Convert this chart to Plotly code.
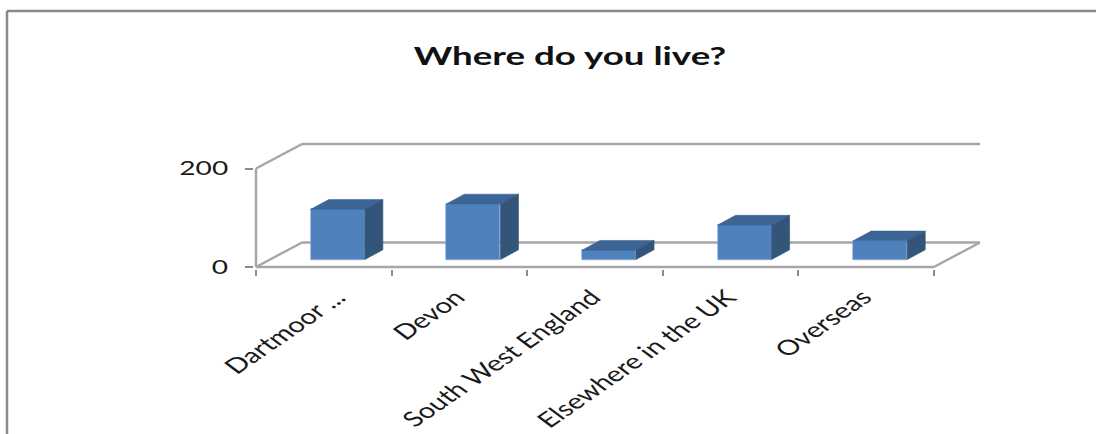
import plotly.graph_objects as go

categories = ["Dartmoor ...", "Devon", "South West England", "Elsewhere in the UK", "Overseas"]
values = [102, 113, 19, 70, 38]
y_tick_vals = [0, 200]
y_tick_text = ["200" if v else "0" for v in y_tick_vals]

STEP = 135.4
UNIT = 0.49
WALL_DX, WALL_DY = 46 / STEP, 24.4 / UNIT
BASE_DX, BASE_DY = 14 / STEP, 7.4 / UNIT
BAR_DX, BAR_DY = 18 / STEP, 9.7 / UNIT
BAR_W = 54 / STEP
PAD = 2  # px of room around the drawn walls, so their strokes are not clipped
LABEL_NUDGE = [0.12, 0, 0, 0, 0]  # the truncated first label sits further right in the reference
n = len(categories)
centers = [i + 0.5 + BASE_DX for i in range(n)]

FRONT, TOP, SIDE = "#4f81bd", "#3c6494", "#335579"
GRID = "#a6a6a6"
TEXT = "#1a1a1a"
FONT = "Lato"

fig = go.Figure()
fig.add_trace(go.Bar(x=centers, y=values, base=BASE_DY, width=BAR_W,
                     marker=dict(color=FRONT, line=dict(color="#7fa6d6", width=0.6)),
                     showlegend=False, hoverinfo="skip"))
for c, v in zip(centers, values):
    l, r = c - BAR_W / 2, c + BAR_W / 2
    t = BASE_DY + v
    fig.add_trace(go.Scatter(x=[l, r, r + BAR_DX, l + BAR_DX, l], y=[t, t, t + BAR_DY, t + BAR_DY, t],
                             mode="lines", fill="toself", fillcolor=TOP, line=dict(color=TOP, width=0.6),
                             showlegend=False, hoverinfo="skip"))
    fig.add_trace(go.Scatter(x=[r, r + BAR_DX, r + BAR_DX, r, r],
                             y=[BASE_DY, BASE_DY + BAR_DY, t + BAR_DY, t, BASE_DY],
                             mode="lines", fill="toself", fillcolor=SIDE, line=dict(color=SIDE, width=0.6),
                             showlegend=False, hoverinfo="skip"))

ymax = y_tick_vals[-1]
seg = [
    (0, 0, 0, ymax), (0, ymax, WALL_DX, ymax + WALL_DY), (WALL_DX, ymax + WALL_DY, n + WALL_DX, ymax + WALL_DY),
    (0, 0, WALL_DX, WALL_DY), (WALL_DX, WALL_DY, n + WALL_DX, WALL_DY), (n, 0, n + WALL_DX, WALL_DY), (0, 0, n, 0),
]
shapes = [dict(type="line", xref="x", yref="y", layer="below", x0=a, y0=b, x1=c, y1=d,
               line=dict(color=GRID, width=2.4)) for a, b, c, d in seg]

L, R, T, B = 256 - PAD, 980 + PAD, 144.3 - PAD, 266.7 + PAD
for x0, y0, x1, y1 in [(7, 12, 1096, 12), (7, 12, 7, 434)]:
    shapes.append(dict(type="line", xref="paper", yref="paper", layer="below",
                       x0=(x0 - L) / (R - L), x1=(x1 - L) / (R - L),
                       y0=(B - y0) / (B - T), y1=(B - y1) / (B - T),
                       line=dict(color="#8a8a8a", width=2.5)))

fig.update_layout(
    width=1096, height=434, autosize=False,
    margin=dict(l=L, r=1096 - R, t=T, b=434 - B, pad=0, autoexpand=False),
    paper_bgcolor="white", plot_bgcolor="rgba(0,0,0,0)", shapes=shapes,
    title=dict(text="<b>Where do you live?</b>", xref="container", yref="container",
               x=570 / 1096, xanchor="center", y=1 - 57 / 434, yanchor="middle", automargin=False,
               font=dict(family=FONT, size=24, color="#111111")),
    xaxis=dict(range=[-PAD / STEP, n + WALL_DX + PAD / STEP], tickmode="array", automargin=False,
               tickvals=[i + 0.5 + d for i, d in enumerate(LABEL_NUDGE)],
               ticktext=categories, tickangle=-44, ticks="", showgrid=False, zeroline=False, showline=False,
               ticklabelstandoff=11,
               tickfont=dict(family=FONT, size=21, color=TEXT),
               minor=dict(tickmode="array", tickvals=list(range(n + 1)), ticks="outside", ticklen=6,
                          tickwidth=2.4, tickcolor="#8c8c8c", showgrid=False)),
    yaxis=dict(range=[-PAD / UNIT, ymax + WALL_DY + PAD / UNIT], tickmode="array", tickvals=y_tick_vals,
               ticktext=y_tick_text, ticklabelstandoff=13, automargin=False,
               ticks="outside", ticklen=8, tickwidth=2.4, tickcolor="#8c8c8c", showgrid=False, zeroline=False,
               showline=False, tickfont=dict(family=FONT, size=19, color=TEXT)),
    bargap=0,
)

# The reference is a horizontally stretched bitmap: stretch each text about its own anchor.
post = """
document.body.style.margin='0';document.documentElement.style.overflow='hidden';
(function(){
  function st(sel,sx,sy){document.querySelectorAll(sel).forEach(function(t){
    if(t.getAttribute('data-st'))return;
    var m=t.transform.baseVal.consolidate();m=m?m.matrix:t.ownerSVGElement.createSVGMatrix();
    var p=new DOMPoint(+t.getAttribute('x')||0,+t.getAttribute('y')||0).matrixTransform(m);
    t.setAttribute('transform','translate('+p.x+','+p.y+') scale('+sx+','+sy+') translate('+(-p.x)+','+(-p.y)+') matrix('+[m.a,m.b,m.c,m.d,m.e,m.f].join(' ')+')');
    t.setAttribute('data-st','1');
  });}
  function go(){st('.gtitle',1.53,1);st('.xtick text',1.4,1);st('.ytick text',1.48,1);}
  go();setTimeout(go,100);
})();
"""
fig.write_html("out.html", config=dict(displayModeBar=False), post_script=post)
